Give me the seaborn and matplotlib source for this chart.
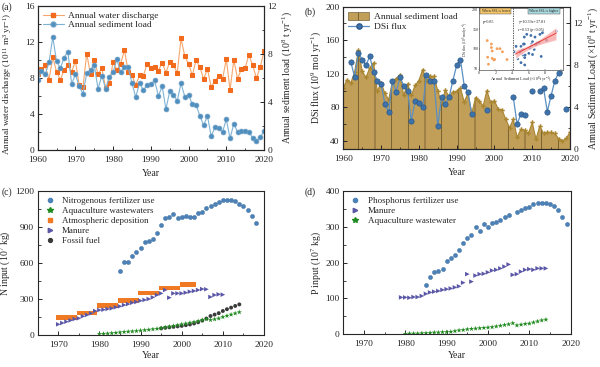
import numpy as np
import pandas as pd
import seaborn as sns
import matplotlib
matplotlib.use("Agg")
import matplotlib.pyplot as plt
from matplotlib.lines import Line2D
from matplotlib.patches import Patch
from matplotlib.ticker import MultipleLocator

# ---------------- data ----------------
years_a = list(range(1960, 2021))
water_discharge = [8.4, 9.0, 9.4, 7.8, 10.3, 8.7, 7.8, 8.9, 9.4, 8.7,
                   9.9, 7.2, 7.0, 10.7, 8.4, 10.0, 8.4, 9.1, 6.9, 7.4,
                   9.8, 8.9, 9.6, 11.1, 8.7, 8.3, 7.2, 8.3, 8.2, 9.6,
                   9.1, 9.2, 8.8, 9.7, 8.6, 9.8, 9.4, 8.6, 12.4, 10.4,
                   9.6, 8.3, 10.0, 9.2, 7.9, 9.0, 7.0, 7.7, 8.2, 7.85,
                   10.1, 6.7, 10.0, 7.9, 9.0, 9.1, 10.6, 9.4, 8.0, 9.2, 11.0]
sediment_load = [5.8, 6.6, 6.3, 7.3, 9.4, 7.4, 6.8, 7.7, 8.2, 5.5,
                 6.3, 5.3, 4.7, 6.4, 6.7, 7.05, 5.1, 6.2, 5.1, 6.05,
                 6.5, 7.55, 6.5, 6.9, 6.9, 5.55, 4.4, 5.6, 5.0, 5.4,
                 5.5, 5.8, 4.5, 5.3, 3.4, 4.9, 4.6, 4.1, 5.55, 4.45,
                 4.6, 3.8, 3.75, 2.85, 2.05, 2.85, 1.15, 1.9, 1.8, 1.5,
                 2.55, 0.97, 2.2, 1.5, 1.6, 1.6, 1.5, 1.0, 0.78, 1.05, 1.6]
nan = np.nan
dsi_flux = [nan, nan, 134, 116, 145, 137, 130, 141, 122, 112,
            108, 84, 74, 112, 98, 116, 106, 100, 64, 88,
            85, 80, 118, 112, 111, 58, 92, 84, 92, 112,
            130, 137, 106, 98, 72, nan, nan, nan, 77, nan,
            nan, nan, nan, nan, nan, 92, 60, 72, 71, nan,
            100, nan, 100, 103, 75, 94, 112, 121, nan, 78, nan]

years_nf = list(range(1985, 2019))
n_fertilizer = [536, 605, 605, 658, 689, 728, 778, 783, 800, 847,
                917, 972, 986, 1006, 978, 981, 992, 981, 983, 1014,
                1028, 1056, 1072, 1089, 1111, 1122, 1125, 1125, 1117, 1094,
                1078, 1044, 992, 931]
years_naq = list(range(1980, 2015))
n_aquaculture = [8, 10, 12, 15, 18, 22, 25, 28, 30, 33,
                 37, 40, 44, 48, 52, 58, 64, 70, 76, 82,
                 89, 95, 102, 108, 116, 124, 133, 125, 131, 138,
                 150, 160, 170, 180, 190]
years_atm = list(range(1970, 2004))
n_atmospheric = [147] * 5 + [183] * 5 + [247] * 5 + [288] * 5 + [350] * 5 + [392] * 5 + [422] * 4
years_nman = list(range(1970, 2011))
n_manure = [89, 100, 111, 122, 133, 139, 156, 167, 181, 200,
            208, 211, 217, 222, 231, 239, 250, 258, 269, 275,
            286, 292, 300, 314, 333, 347, 375, 311, 347, 347,
            347, 353, 361, 367, 375, 383, 381, 317, 333, 339, 336]
years_foss = list(range(1995, 2015))
n_fossil = [55, 60, 64, 68, 72, 76, 82, 88, 96, 106,
            120, 137, 158, 170, 182, 200, 215, 228, 242, 255]

years_pf = [y for y in range(1985, 2020) if y != 2006]
p_fertilizer = [138, 160, 173, 177, 182, 205, 214, 220, 236, 255,
                270, 277, 300, 288, 308, 300, 312, 313, 319, 327,
                332, 342, 348, 353, 356, 364, 366, 367, 367, 365,
                359, 346, 327, 308]
years_pman = list(range(1979, 2015))
p_manure = [103, 103, 102, 104, 104, 107, 113, 117, 119, 121,
            124, 126, 128, 131, 134, 144, 168, 147, 164, 168,
            169, 173, 178, 180, 184, 189, 195, 166, 168, 175,
            180, 182, 180, 184, 184, 184]
years_paq = list(range(1980, 2015))
p_aquaculture = [1, 2, 2, 2, 3, 3, 4, 5, 5, 6,
                 6, 7, 9, 11, 12, 14, 15, 16, 17, 18,
                 19, 20, 22, 24, 26, 28, 31, 25, 27, 29,
                 30, 33, 36, 39, 41]

# ---------------- style ----------------
sns.set_theme(style="ticks")
plt.rcParams["font.family"] = ["Liberation Serif", "DejaVu Serif"]
plt.rcParams["mathtext.fontset"] = "custom"
plt.rcParams["mathtext.rm"] = "Liberation Serif"
plt.rcParams["mathtext.it"] = "Liberation Serif:italic"
plt.rcParams["axes.linewidth"] = 0.8
plt.rcParams["hatch.linewidth"] = 0.5

TICK = 6.8
LAB = 7
LEG = 6.8

fig = plt.figure(figsize=(6.0, 3.67), dpi=100)

def frac(l, t, r, b):
    W, H = 600.0, 367.0
    return [l / W, 1 - b / H, (r - l) / W, (b - t) / H]

def style_axis(ax, major, minor):
    ax.xaxis.set_major_locator(MultipleLocator(10))
    ax.xaxis.set_minor_locator(MultipleLocator(5))
    ax.yaxis.set_major_locator(MultipleLocator(major))
    if minor:
        ax.yaxis.set_minor_locator(MultipleLocator(minor))
    ax.tick_params(which="both", direction="in", labelsize=TICK)
    ax.tick_params(axis="y", pad=2.5)
    ax.tick_params(axis="x", pad=4)
    ax.tick_params(which="major", length=3, width=0.7)
    ax.tick_params(which="minor", length=1.8, width=0.6)
    for s in ax.spines.values():
        s.set_visible(True)
        s.set_linewidth(0.8)

df_a = pd.DataFrame({"Year": years_a, "Water": water_discharge,
                     "Sediment": sediment_load, "DSi": dsi_flux})

# ---------------- (a) ----------------
ax_a = fig.add_axes(frac(37.7, 6, 264, 150))
ax_a2 = ax_a.twinx()
orange = "#f26b1d"
blue_a = "#4f8fbf"
MS = 3.2
sns.lineplot(data=df_a, x="Year", y="Water", ax=ax_a, color="#f7a66b", lw=0.8,
             marker="s", markersize=MS, markerfacecolor=orange, markeredgecolor=orange,
             legend=False)
sns.lineplot(data=df_a, x="Year", y="Sediment", ax=ax_a2, color="#7fb3d5", lw=0.8,
             marker="o", markersize=MS + 0.3, markerfacecolor=blue_a, markeredgecolor="#6f9fc4",
             markeredgewidth=0.5, legend=False)
ax_a.set_xlim(1960, 2020)
ax_a.set_ylim(0, 16)
ax_a2.set_ylim(0, 12)
style_axis(ax_a, 4, 2)
style_axis(ax_a2, 4, 2)
ax_a.set_xlabel("Year", fontsize=LAB, labelpad=4)
ax_a.set_ylabel("Annual water discharge (10$^{11}$ m$^{3}$ yr$^{-1}$)", fontsize=LAB - 0.4, labelpad=1)
ax_a.yaxis.set_label_coords(-0.105, 0.46)
ax_a2.set_ylabel("Annual sediment load (10$^{8}$ t yr$^{-1}$)", fontsize=LAB, labelpad=2)
h_a = [Line2D([], [], color="#f7a66b", lw=0.8, marker="s", markersize=MS,
              markerfacecolor=orange, markeredgecolor=orange),
       Line2D([], [], color="#7fb3d5", lw=0.8, marker="o", markersize=MS + 0.3,
              markerfacecolor=blue_a, markeredgecolor="#6f9fc4")]
ax_a.legend(h_a, ["Annual water discharge", "Annual sediment load"], loc="upper left",
            frameon=False, fontsize=LEG, handlelength=2.2, borderaxespad=0.15,
            labelspacing=0.1, handletextpad=0.5)
fig.text(2 / 600, 1 - 7 / 367, "(a)", fontsize=LAB, va="center")

# ---------------- (b) ----------------
ax_b = fig.add_axes(frac(343.3, 6.7, 570, 149.3))
ax_b2 = ax_b.twinx()
area_col = "#c29f58"
hatch_col = "#5e4a22"
ax_b2.fill_between(df_a["Year"], 0, df_a["Sediment"], facecolor=area_col,
                   edgecolor=hatch_col, hatch="|", lw=0)
sns.lineplot(data=df_a, x="Year", y="Sediment", ax=ax_b2, color="#a98530", lw=0.8,
             marker="P", markersize=3.2, markeredgewidth=0, legend=False)
ax_b.plot(df_a["Year"], df_a["DSi"], color="#5b8fc2", lw=0.9, marker="o",
          markersize=3.8, markerfacecolor="#3d72ab", markeredgecolor="#2d5a8a",
          markeredgewidth=0.5)
ax_b.set_zorder(ax_b2.get_zorder() + 1)
ax_b.patch.set_visible(False)
ax_b.set_xlim(1960, 2020)
ax_b.set_ylim(30, 200)
ax_b2.set_ylim(0, 13.5)
style_axis(ax_b, 40, 20)
style_axis(ax_b2, 4, 2)
ax_b.set_xlabel("Year", fontsize=LAB, labelpad=4)
ax_b.set_ylabel("DSi flux (10$^{9}$ mol yr$^{-1}$)", fontsize=LAB, labelpad=2)
ax_b2.set_ylabel("Annual Sediment Load (×10$^{8}$ t yr$^{-1}$)", fontsize=LAB, labelpad=2)
h_b = [Patch(facecolor=area_col, edgecolor=hatch_col, hatch="|", lw=0.4),
       Line2D([], [], color="#5b8fc2", lw=0.9, marker="o", markersize=3.8,
              markerfacecolor="#3d72ab", markeredgecolor="#2d5a8a")]
ax_b.legend(h_b, ["Annual sediment load", "DSi flux"], loc="upper left",
            frameon=False, fontsize=LEG, handlelength=2.2, handleheight=0.9,
            borderaxespad=0.15, labelspacing=0.1, handletextpad=0.5)
fig.text(305 / 600, 1 - 12 / 367, "(b)", fontsize=LAB, va="center")

# inset
ax_in = fig.add_axes(frac(479, 8, 563, 70))
sub = df_a.dropna(subset=["DSi"])
low = sub[sub["Sediment"] < 4.0]
high = sub[sub["Sediment"] >= 4.0]
sns.scatterplot(data=low, x="Sediment", y="DSi", ax=ax_in, color="#f4a05a",
                s=4, edgecolor="none", legend=False)
sns.scatterplot(data=high, x="Sediment", y="DSi", ax=ax_in, color="#3f6fa8",
                s=4, edgecolor="none", legend=False)
sns.regplot(data=high, x="Sediment", y="DSi", ax=ax_in, scatter=False,
            color="#e8302a", line_kws={"lw": 0.6}, seed=1, truncate=True)
for coll in ax_in.collections[2:]:
    coll.set_facecolor("#f7a0a0")
    coll.set_alpha(0.75)
ax_in.axvline(4.1, color="k", ls=(0, (2, 1.5)), lw=0.5)
ax_in.set_xlim(0, 10.2)
ax_in.set_ylim(45, 205)
ax_in.set_xticks([0, 2, 4, 6, 8, 10])
ax_in.set_yticks([50, 100, 150, 200])
ax_in.tick_params(labelsize=3, length=1, width=0.3, pad=0.5, direction="in")
for s in ax_in.spines.values():
    s.set_linewidth(0.4)
ax_in.set_xlabel("Annual Sediment Load (×10$^8$ t yr$^{-1}$)", fontsize=3, labelpad=0)
ax_in.set_ylabel("DSi flux (10$^9$ mol yr$^{-1}$)", fontsize=2.6, labelpad=0.5)
ax_in.text(0.03, 0.985, "When SSL is lower", transform=ax_in.transAxes, fontsize=2.6,
           va="top", ha="left",
           bbox=dict(boxstyle="square,pad=0.3", fc="#f3c46a", ec="#444444", lw=0.3))
ax_in.text(0.6, 0.985, "When SSL is higher", transform=ax_in.transAxes, fontsize=2.6,
           va="top", ha="left",
           bbox=dict(boxstyle="square,pad=0.3", fc="#a9d9df", ec="#444444", lw=0.3))
ax_in.text(0.05, 0.8, "p=0.85", transform=ax_in.transAxes, fontsize=3, va="top")
ax_in.text(0.47, 0.8, "y=10.39x+37.81", transform=ax_in.transAxes, fontsize=3, va="top")
ax_in.text(0.47, 0.68, "r=0.53 (p<0.05)", transform=ax_in.transAxes, fontsize=3, va="top")

# ---------------- (c) ----------------
ax_c = fig.add_axes(frac(37.7, 191, 264, 335))
c_fert, c_aq, c_atm, c_man, c_fos = "#4d82b8", "#1f8a1f", "#f07a24", "#5a57a6", "#3a3a3a"
S_O, S_SQ, S_TR, S_ST = 9, 10, 11, 15
sns.scatterplot(x=years_nf, y=n_fertilizer, ax=ax_c, marker="o", s=S_O, color=c_fert,
                edgecolor="#3c6c9e", linewidth=0.3, legend=False)
sns.scatterplot(x=years_atm, y=n_atmospheric, ax=ax_c, marker="s", s=S_SQ, color=c_atm,
                edgecolor="none", legend=False)
sns.scatterplot(x=years_nman, y=n_manure, ax=ax_c, marker=">", s=S_TR, color=c_man,
                edgecolor="none", legend=False)
sns.scatterplot(x=years_foss, y=n_fossil, ax=ax_c, marker="o", s=S_O - 1, color=c_fos,
                edgecolor="none", legend=False)
sns.scatterplot(x=years_naq, y=n_aquaculture, ax=ax_c, marker="*", s=S_ST, color=c_aq,
                edgecolor="none", legend=False)
ax_c.set_xlim(1965, 2020)
ax_c.set_ylim(0, 1200)
style_axis(ax_c, 300, 150)
ax_c.set_xlabel("Year", fontsize=LAB, labelpad=2)
ax_c.set_ylabel("N input (10$^{7}$ kg)", fontsize=LAB, labelpad=2)
h_c = [Line2D([], [], ls="", marker="o", markersize=3.0, color=c_fert),
       Line2D([], [], ls="", marker="*", markersize=4.0, color=c_aq),
       Line2D([], [], ls="", marker="s", markersize=3.0, color=c_atm),
       Line2D([], [], ls="", marker=">", markersize=3.2, color=c_man),
       Line2D([], [], ls="", marker="o", markersize=2.8, color=c_fos)]
ax_c.legend(h_c, ["Nitrogenous fertilizer use", "Aquaculture wastewaters",
                  "Atmospheric deposition", "Manure", "Fossil fuel"],
            loc="upper left", frameon=False, fontsize=LEG - 0.3, handlelength=1.5,
            borderaxespad=0.2, labelspacing=0.2, handletextpad=0.6)
fig.text(2 / 600, 1 - 192 / 367, "(c)", fontsize=LAB, va="center")

# ---------------- (d) ----------------
ax_d = fig.add_axes(frac(343.3, 191, 570.7, 334.3))
sns.scatterplot(x=years_pf, y=p_fertilizer, ax=ax_d, marker="o", s=S_O, color=c_fert,
                edgecolor="#3c6c9e", linewidth=0.3, legend=False)
sns.scatterplot(x=years_pman, y=p_manure, ax=ax_d, marker=">", s=S_TR, color=c_man,
                edgecolor="none", legend=False)
sns.scatterplot(x=years_paq, y=p_aquaculture, ax=ax_d, marker="*", s=S_ST, color=c_aq,
                edgecolor="none", legend=False)
ax_d.set_xlim(1965, 2020)
ax_d.set_ylim(0, 400)
style_axis(ax_d, 100, 50)
ax_d.set_xlabel("Year", fontsize=LAB, labelpad=2)
ax_d.set_ylabel("P input (10$^{7}$ kg)", fontsize=LAB, labelpad=2)
h_d = [Line2D([], [], ls="", marker="o", markersize=3.0, color=c_fert),
       Line2D([], [], ls="", marker=">", markersize=3.2, color=c_man),
       Line2D([], [], ls="", marker="*", markersize=4.0, color=c_aq)]
ax_d.legend(h_d, ["Phosphorus fertilizer use", "Manure", "Aquaculture wastewater"],
            loc="upper left", frameon=False, fontsize=LEG - 0.3, handlelength=1.5,
            borderaxespad=0.2, labelspacing=0.2, handletextpad=0.6)
fig.text(305 / 600, 1 - 192 / 367, "(d)", fontsize=LAB, va="center")

fig.savefig("out.png", dpi=100)
